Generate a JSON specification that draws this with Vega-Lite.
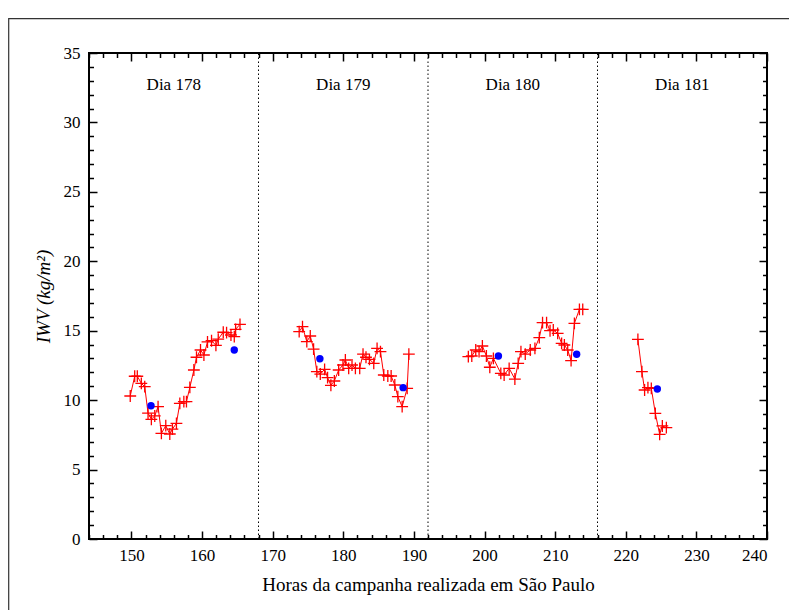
{
  "$schema": "https://vega.github.io/schema/vega-lite/v6.json",
  "width": 678,
  "height": 486,
  "autosize": {"type": "none"},
  "padding": {"left": 89, "top": 53, "right": 22, "bottom": 71},
  "background": "white",
  "config": {
    "view": {"stroke": "black", "strokeWidth": 2},
    "font": "'Liberation Serif', 'Times New Roman', 'DejaVu Serif', serif",
    "axis": {
      "grid": false, "domain": false,
      "labelFont": "'Liberation Serif', 'Times New Roman', 'DejaVu Serif', serif", "titleFont": "'Liberation Serif', 'Times New Roman', 'DejaVu Serif', serif",
      "labelColor": "black", "titleColor": "black", "tickColor": "black",
      "labelFontSize": 17, "titleFontSize": 19, "titleFontWeight": "normal"
    }
  },
  "datasets": {
    "red": [
      {"d":"178","h":149.84,"v":10.30},{"d":"178","h":150.47,"v":11.72},{"d":"178","h":150.84,"v":11.72},{"d":"178","h":151.41,"v":11.21},{"d":"178","h":151.89,"v":10.97},{"d":"178","h":152.36,"v":9.07},{"d":"178","h":152.83,"v":8.62},{"d":"178","h":153.31,"v":8.86},{"d":"178","h":153.78,"v":9.53},{"d":"178","h":154.25,"v":7.61},{"d":"178","h":154.87,"v":8.16},{"d":"178","h":155.44,"v":7.56},{"d":"178","h":155.81,"v":7.92},{"d":"178","h":156.38,"v":8.33},{"d":"178","h":156.86,"v":9.77},{"d":"178","h":157.43,"v":9.89},{"d":"178","h":157.80,"v":9.89},{"d":"178","h":158.28,"v":10.92},{"d":"178","h":158.85,"v":12.17},{"d":"178","h":159.22,"v":13.09},{"d":"178","h":159.79,"v":13.61},{"d":"178","h":160.27,"v":13.25},{"d":"178","h":160.78,"v":14.19},{"d":"178","h":161.35,"v":14.28},{"d":"178","h":161.97,"v":13.95},{"d":"178","h":162.30,"v":14.40},{"d":"178","h":163.01,"v":14.89},{"d":"178","h":163.48,"v":14.86},{"d":"178","h":164.10,"v":14.69},{"d":"178","h":164.57,"v":14.57},{"d":"178","h":164.76,"v":15.10},{"d":"178","h":165.38,"v":15.46},
      {"d":"179","h":173.76,"v":14.93},{"d":"179","h":174.23,"v":15.29},{"d":"179","h":174.84,"v":14.21},{"d":"179","h":175.33,"v":14.62},{"d":"179","h":175.80,"v":13.68},{"d":"179","h":176.26,"v":12.05},{"d":"179","h":176.75,"v":11.88},{"d":"179","h":177.36,"v":12.22},{"d":"179","h":177.78,"v":11.62},{"d":"179","h":178.25,"v":11.07},{"d":"179","h":178.74,"v":11.38},{"d":"179","h":179.35,"v":12.17},{"d":"179","h":179.96,"v":12.53},{"d":"179","h":180.30,"v":12.89},{"d":"179","h":180.77,"v":12.29},{"d":"179","h":181.24,"v":12.53},{"d":"179","h":181.72,"v":12.29},{"d":"179","h":182.33,"v":12.29},{"d":"179","h":182.80,"v":13.32},{"d":"179","h":183.22,"v":13.09},{"d":"179","h":183.71,"v":12.94},{"d":"179","h":184.32,"v":12.65},{"d":"179","h":184.79,"v":13.73},{"d":"179","h":185.27,"v":13.49},{"d":"179","h":185.74,"v":11.81},{"d":"179","h":186.31,"v":11.74},{"d":"179","h":186.78,"v":11.74},{"d":"179","h":187.30,"v":11.09},{"d":"179","h":187.73,"v":10.25},{"d":"179","h":188.34,"v":9.53},{"d":"179","h":189.05,"v":10.85},{"d":"179","h":189.29,"v":13.32},
      {"d":"180","h":197.71,"v":13.13},{"d":"180","h":198.20,"v":13.18},{"d":"180","h":198.76,"v":13.61},{"d":"180","h":199.23,"v":13.49},{"d":"180","h":199.70,"v":13.90},{"d":"180","h":200.27,"v":13.18},{"d":"180","h":200.75,"v":12.37},{"d":"180","h":201.26,"v":13.01},{"d":"180","h":202.31,"v":11.93},{"d":"180","h":202.78,"v":11.81},{"d":"180","h":203.49,"v":12.29},{"d":"180","h":204.30,"v":11.52},{"d":"180","h":204.77,"v":12.65},{"d":"180","h":205.16,"v":13.49},{"d":"180","h":205.77,"v":13.32},{"d":"180","h":206.48,"v":13.61},{"d":"180","h":207.14,"v":13.73},{"d":"180","h":207.76,"v":14.50},{"d":"180","h":208.22,"v":15.58},{"d":"180","h":208.79,"v":15.58},{"d":"180","h":209.28,"v":15.00},{"d":"180","h":209.74,"v":15.05},{"d":"180","h":210.36,"v":14.81},{"d":"180","h":210.92,"v":14.09},{"d":"180","h":211.31,"v":13.97},{"d":"180","h":211.78,"v":13.61},{"d":"180","h":212.26,"v":12.84},{"d":"180","h":212.73,"v":15.53},{"d":"180","h":213.44,"v":16.54},{"d":"180","h":213.91,"v":16.54},
      {"d":"181","h":221.72,"v":14.38},{"d":"181","h":222.29,"v":12.05},{"d":"181","h":222.67,"v":10.73},{"d":"181","h":223.14,"v":10.90},{"d":"181","h":223.62,"v":10.85},{"d":"181","h":224.19,"v":9.05},{"d":"181","h":224.80,"v":7.54},{"d":"181","h":225.18,"v":8.14},{"d":"181","h":225.75,"v":8.02}
    ],
    "blue": [
      {"h":152.78,"v":9.60},{"h":164.57,"v":13.61},{"h":176.69,"v":12.98},{"h":188.48,"v":10.90},{"h":201.97,"v":13.18},{"h":213.05,"v":13.30},{"h":224.47,"v":10.80}
    ],
    "dias": [
      {"h":168},{"h":192},{"h":216}
    ],
    "labels": [
      {"h":156,"v":32.7,"t":"Dia 178"},{"h":180,"v":32.7,"t":"Dia 179"},{"h":204,"v":32.7,"t":"Dia 180"},{"h":228,"v":32.7,"t":"Dia 181"}
    ],
    "frame": [{}]
  },
  "layer": [
    {
      "data": {"name": "frame"},
      "mark": {"type": "rect", "fill": null, "fillOpacity": 0, "stroke": "#333333", "strokeWidth": 1.2, "clip": false},
      "encoding": {
        "x": {"datum": 132.63, "type": "quantitative", "scale": {"domain": [144, 240], "nice": false, "zero": false}, "axis": null},
        "x2": {"datum": 250},
        "y": {"datum": 37.48, "type": "quantitative", "scale": {"domain": [0, 35], "nice": false, "zero": false}, "axis": null},
        "y2": {"datum": -12}
      }
    },
    {
      "data": {"name": "dias"},
      "mark": {"type": "rule", "color": "black", "strokeWidth": 1, "strokeDash": [1.5, 2.5]},
      "encoding": {
        "x": {"field": "h", "type": "quantitative", "scale": {"domain": [144, 240], "nice": false, "zero": false},
          "axis": {"values": [150,160,170,180,190,200,210,220,230,240], "ticks": false, "labelPadding": 8, "title": "Horas da campanha realizada em São Paulo", "titlePadding": 12}},
        "y": {"datum": 0, "type": "quantitative", "scale": {"domain": [0, 35], "nice": false, "zero": false},
          "axis": {"values": [0,5,10,15,20,25,30,35], "ticks": false, "labelPadding": 9, "title": "IWV (kg/m²)", "titleFontStyle": "italic", "titlePadding": 10}},
        "y2": {"datum": 35}
      }
    },
    {
      "data": {"name": "red"},
      "mark": {"type": "line", "color": "#ff0000", "strokeWidth": 1},
      "encoding": {
        "x": {"field": "h", "type": "quantitative", "scale": {"domain": [144, 240], "nice": false, "zero": false},
          "axis": {"orient": "bottom", "values": [150,160,170,180,190,200,210,220,230,240], "labels": false, "title": null, "tickSize": -8, "tickWidth": 1.5}},
        "y": {"field": "v", "type": "quantitative", "scale": {"domain": [0, 35], "nice": false, "zero": false},
          "axis": {"orient": "left", "values": [0,5,10,15,20,25,30,35], "labels": false, "title": null, "tickSize": -8, "tickWidth": 1.5}},
        "detail": {"field": "d"}
      }
    },
    {
      "data": {"name": "red"},
      "mark": {"type": "point", "shape": "M-1,0L1,0M0,-1L0,1", "filled": false, "stroke": "#ff0000", "strokeWidth": 1.3, "size": 140, "opacity": 1},
      "encoding": {
        "x": {"field": "h", "type": "quantitative", "scale": {"domain": [144, 240], "nice": false, "zero": false},
          "axis": {"orient": "bottom", "values": [144,146,148,152,154,156,158,162,164,166,168,172,174,176,178,182,184,186,188,192,194,196,198,202,204,206,208,212,214,216,218,222,224,226,228,232,234,236,238], "labels": false, "title": null, "tickSize": -4.5, "tickWidth": 1.5}},
        "y": {"field": "v", "type": "quantitative", "scale": {"domain": [0, 35], "nice": false, "zero": false},
          "axis": {"orient": "left", "values": [1,2,3,4,6,7,8,9,11,12,13,14,16,17,18,19,21,22,23,24,26,27,28,29,31,32,33,34], "labels": false, "title": null, "tickSize": -4.5, "tickWidth": 1.5}}
      }
    },
    {
      "data": {"name": "blue"},
      "mark": {"type": "circle", "color": "#0000ff", "size": 55, "opacity": 1},
      "encoding": {
        "x": {"field": "h", "type": "quantitative", "scale": {"domain": [144, 240], "nice": false, "zero": false},
          "axis": {"orient": "top", "values": [150,160,170,180,190,200,210,220,230,240], "labels": false, "title": null, "tickSize": -8, "tickWidth": 1.5}},
        "y": {"field": "v", "type": "quantitative", "scale": {"domain": [0, 35], "nice": false, "zero": false},
          "axis": {"orient": "right", "values": [0,5,10,15,20,25,30,35], "labels": false, "title": null, "tickSize": -8, "tickWidth": 1.5}}
      }
    },
    {
      "data": {"name": "labels"},
      "mark": {"type": "text", "font": "'Liberation Serif', 'Times New Roman', 'DejaVu Serif', serif", "fontSize": 17, "color": "black", "baseline": "middle", "align": "center"},
      "encoding": {
        "x": {"field": "h", "type": "quantitative", "scale": {"domain": [144, 240], "nice": false, "zero": false},
          "axis": {"orient": "top", "values": [144,146,148,152,154,156,158,162,164,166,168,172,174,176,178,182,184,186,188,192,194,196,198,202,204,206,208,212,214,216,218,222,224,226,228,232,234,236,238], "labels": false, "title": null, "tickSize": -4.5, "tickWidth": 1.5}},
        "y": {"field": "v", "type": "quantitative", "scale": {"domain": [0, 35], "nice": false, "zero": false},
          "axis": {"orient": "right", "values": [1,2,3,4,6,7,8,9,11,12,13,14,16,17,18,19,21,22,23,24,26,27,28,29,31,32,33,34], "labels": false, "title": null, "tickSize": -4.5, "tickWidth": 1.5}},
        "text": {"field": "t"}
      }
    }
  ],
  "resolve": {"axis": {"x": "independent", "y": "independent"}}
}
